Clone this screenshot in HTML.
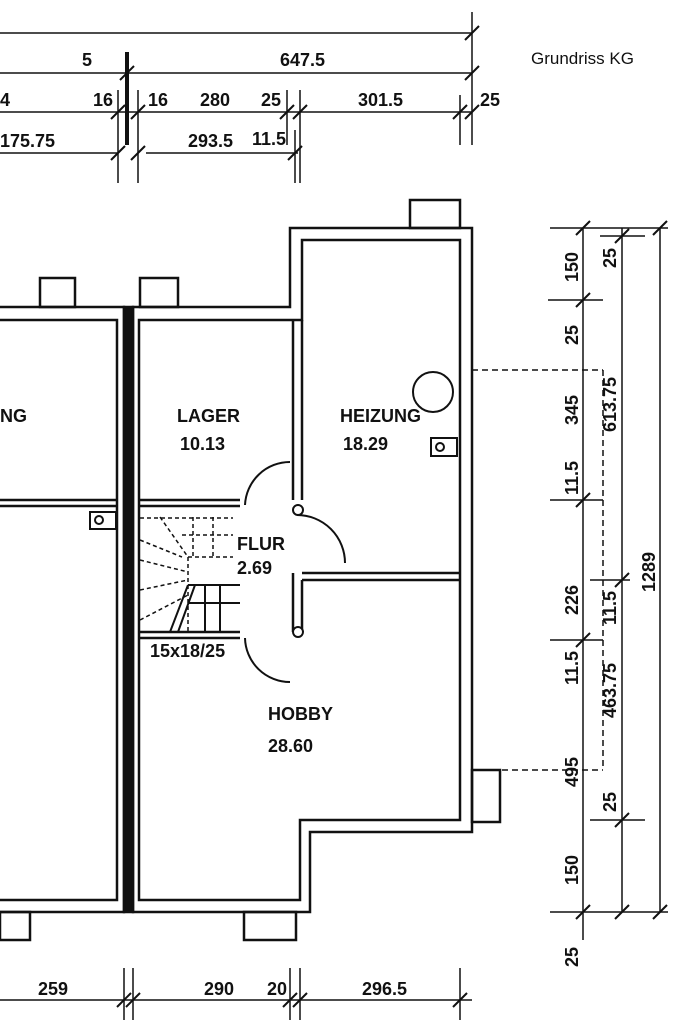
<!DOCTYPE html>
<html><head><meta charset="utf-8"><style>
body{margin:0;background:#fff}
svg{display:block}
text{font-family:"Liberation Sans",sans-serif;fill:#111}
.d{font-size:18px;font-weight:bold}
</style></head><body>
<svg width="684" height="1024" viewBox="0 0 684 1024" xmlns="http://www.w3.org/2000/svg">
<g stroke="#111" fill="none" stroke-width="1.5">
<!-- top dims -->
<line x1="0" y1="33" x2="472" y2="33"/>
<line x1="0" y1="73" x2="472" y2="73"/>
<line x1="0" y1="112" x2="472" y2="112"/>
<line x1="0" y1="153" x2="118" y2="153"/>
<line x1="146" y1="153" x2="298" y2="153"/>
<line x1="472" y1="12" x2="472" y2="145"/>
<line x1="460" y1="95" x2="460" y2="145"/>
<line x1="118" y1="90" x2="118" y2="183"/>
<line x1="138" y1="90" x2="138" y2="183"/>
<line x1="287" y1="90" x2="287" y2="145"/>
<line x1="295" y1="130" x2="295" y2="183"/>
<line x1="300" y1="90" x2="300" y2="183"/>
<line x1="127" y1="52" x2="127" y2="145" stroke-width="4"/>
<g stroke-width="2">
<line x1="465" y1="40" x2="479" y2="26"/><line x1="465" y1="80" x2="479" y2="66"/>
<line x1="120" y1="80" x2="134" y2="66"/><line x1="453" y1="119" x2="467" y2="105"/><line x1="465" y1="119" x2="479" y2="105"/>
<line x1="111" y1="119" x2="125" y2="105"/><line x1="131" y1="119" x2="145" y2="105"/><line x1="280" y1="119" x2="294" y2="105"/><line x1="293" y1="119" x2="307" y2="105"/>
<line x1="111" y1="160" x2="125" y2="146"/><line x1="131" y1="160" x2="145" y2="146"/><line x1="288" y1="160" x2="302" y2="146"/>
</g>
<!-- right dims -->
<line x1="583" y1="228" x2="583" y2="940"/>
<line x1="622" y1="228" x2="622" y2="912"/>
<line x1="660" y1="228" x2="660" y2="912"/>
<line x1="550" y1="228" x2="668" y2="228"/>
<line x1="550" y1="912" x2="668" y2="912"/>
<line x1="548" y1="300" x2="603" y2="300"/>
<line x1="590" y1="820" x2="645" y2="820"/>
<line x1="600" y1="236" x2="645" y2="236"/>
<line x1="550" y1="500" x2="603" y2="500"/>
<line x1="550" y1="640" x2="603" y2="640"/>
<line x1="590" y1="580" x2="630" y2="580"/>
<g stroke-width="2">
<line x1="576" y1="235" x2="590" y2="221"/><line x1="615" y1="243" x2="629" y2="229"/><line x1="653" y1="235" x2="667" y2="221"/>
<line x1="576" y1="307" x2="590" y2="293"/><line x1="576" y1="507" x2="590" y2="493"/><line x1="576" y1="647" x2="590" y2="633"/>
<line x1="615" y1="587" x2="629" y2="573"/><line x1="615" y1="827" x2="629" y2="813"/>
<line x1="576" y1="919" x2="590" y2="905"/><line x1="615" y1="919" x2="629" y2="905"/><line x1="653" y1="919" x2="667" y2="905"/>
</g>
<g stroke-dasharray="6,4">
<line x1="472" y1="370" x2="603" y2="370"/><line x1="472" y1="770" x2="603" y2="770"/><line x1="603" y1="370" x2="603" y2="770"/>
</g>
<!-- bottom dims -->
<line x1="0" y1="1000" x2="472" y2="1000"/>
<g stroke-width="2">
<line x1="117" y1="1007" x2="131" y2="993"/><line x1="126" y1="1007" x2="140" y2="993"/><line x1="283" y1="1007" x2="297" y2="993"/><line x1="293" y1="1007" x2="307" y2="993"/><line x1="453" y1="1007" x2="467" y2="993"/>
</g>
<line x1="124" y1="968" x2="124" y2="1020"/><line x1="133" y1="968" x2="133" y2="1020"/><line x1="290" y1="968" x2="290" y2="1020"/><line x1="300" y1="968" x2="300" y2="1020"/><line x1="460" y1="968" x2="460" y2="1020"/>
</g>
<!-- walls -->
<g stroke="#111" fill="none" stroke-width="2.5">
<path d="M0 307 H124 V912 H0"/>
<path d="M0 320 H117 V900 H0"/>
<path d="M133 307 H290 V228 H472 V832 H310 V912 H133 Z"/>
<path d="M139 320 H302 V240 H460 V820 H300 V900 H139 Z"/>
<rect x="124" y="307" width="9" height="605" fill="#111"/>
<path d="M0 500 H117 M0 506 H117"/>
<path d="M139 500 H240 M139 506 H240"/>
<path d="M139 632 H240 M139 638 H240"/>
<path d="M293 320 V500 M302 320 V500"/>
<path d="M302 573 H460 M302 580 H460 M293 573 V632 M302 580 V632"/>
<!-- windows -->
<rect x="40" y="278" width="35" height="29"/><rect x="140" y="278" width="38" height="29"/><rect x="410" y="200" width="50" height="28"/>
<rect x="0" y="912" width="30" height="28"/><rect x="244" y="912" width="52" height="28"/><rect x="472" y="770" width="28" height="52"/>
</g>
<g stroke="#111" fill="none" stroke-width="2">
<!-- doors -->
<path d="M290 462 A45 45 0 0 0 245 505"/>
<path d="M297 515 A48 48 0 0 1 345 563"/>
<path d="M245 638 A45 45 0 0 0 290 682"/>
<circle cx="298" cy="510" r="5" fill="#fff"/><circle cx="298" cy="632" r="5" fill="#fff"/>
<!-- heater -->
<circle cx="433" cy="392" r="20"/><rect x="431" y="438" width="26" height="18"/><circle cx="440" cy="447" r="4"/>
<rect x="90" y="512" width="26" height="17"/><circle cx="99" cy="520" r="4"/>
<!-- stairs -->
<g stroke-dasharray="4,3" stroke-width="1.5">
<path d="M140 518 H233 M182 535 H233 M188 557 H233 M188 557 V632 M160 517 L188 557 M193 517 L193 557 M213 517 L213 557 M140 560 L188 572 M140 590 L188 580 M140 620 L188 595 M140 540 L182 557"/>
</g>
<path d="M188 585 H240 M188 603 H240 M205 585 V632 M220 585 V632 M188 585 L170 632 M195 585 L178 632"/>
</g>
<!-- labels -->
<g class="d">
<text x="82" y="66">5</text><text x="280" y="66">647.5</text>
<text x="0" y="106">4</text><text x="93" y="106">16</text><text x="148" y="106">16</text><text x="200" y="106">280</text><text x="261" y="106">25</text><text x="358" y="106">301.5</text><text x="480" y="106">25</text>
<text x="0" y="147">175.75</text><text x="188" y="147">293.5</text><text x="252" y="145">11.5</text>
<text x="38" y="995">259</text><text x="204" y="995">290</text><text x="267" y="995">20</text><text x="362" y="995">296.5</text>
<text x="177" y="422">LAGER</text><text x="180" y="450">10.13</text>
<text x="340" y="422">HEIZUNG</text><text x="343" y="450">18.29</text>
<text x="0" y="422">NG</text>
<text x="237" y="550">FLUR</text><text x="237" y="574">2.69</text>
<text x="150" y="657">15x18/25</text>
<text x="268" y="720">HOBBY</text><text x="268" y="752">28.60</text>
</g>
<g class="d" font-size="16">
<text transform="translate(578,282) rotate(-90)">150</text>
<text transform="translate(616,268) rotate(-90)">25</text>
<text transform="translate(578,345) rotate(-90)">25</text>
<text transform="translate(578,425) rotate(-90)">345</text>
<text transform="translate(578,495) rotate(-90)">11.5</text>
<text transform="translate(578,615) rotate(-90)">226</text>
<text transform="translate(578,685) rotate(-90)">11.5</text>
<text transform="translate(578,787) rotate(-90)">495</text>
<text transform="translate(578,885) rotate(-90)">150</text>
<text transform="translate(578,967) rotate(-90)">25</text>
<text transform="translate(616,812) rotate(-90)">25</text>
<text transform="translate(616,432) rotate(-90)">613.75</text>
<text transform="translate(616,625) rotate(-90)">11.5</text>
<text transform="translate(616,718) rotate(-90)">463.75</text>
<text transform="translate(655,592) rotate(-90)">1289</text>
</g>
<text x="531" y="64" font-size="17">Grundriss KG</text>
</svg>
</body></html>
